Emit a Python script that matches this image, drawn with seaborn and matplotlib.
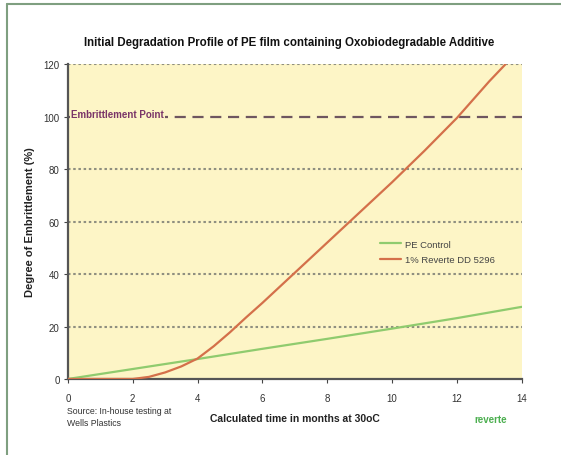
import matplotlib
matplotlib.use("Agg")
import matplotlib.pyplot as plt
import seaborn as sns
import pandas as pd

# Degradation data (months at 30oC vs. % embrittlement)
months_control = [0, 2, 4, 6, 8, 10, 12, 14]
control_values = [0, 3.8, 7.6, 11.5, 15.3, 19.2, 23.2, 27.5]

months_additive = [0, 1, 2, 2.5, 3, 3.5, 4, 4.5, 5, 5.5, 6, 7, 8, 9, 10, 11, 12, 12.5, 13, 13.5]
additive_values = [0, 0, 0, 0.8, 2.5, 4.8, 7.8, 12.5, 17.8, 23.5, 29, 40.5, 52, 63.5, 75, 87, 99.5, 106.5, 113.5, 120]

series_names = ["PE Control", "1% Reverte DD 5296"]
series_colors = ["#8fcb6e", "#d4704a"]

embrittlement_level = 100
y_ticks = [0, 20, 40, 60, 80, 100, 120]
x_ticks = [0, 2, 4, 6, 8, 10, 12, 14]

df = pd.concat([
    pd.DataFrame({"month": months_control, "value": control_values, "series": series_names[0]}),
    pd.DataFrame({"month": months_additive, "value": additive_values, "series": series_names[1]}),
])

sns.set_theme(style="white")
plt.rcParams["font.family"] = ["Liberation Sans", "DejaVu Sans"]

fig = plt.figure(figsize=(5.61, 4.56), dpi=100)
ax = fig.add_axes([0.121, 0.1667, 0.809, 0.6903])
bg = "#fdf5c6"
ax.set_facecolor(bg)

# dotted grid lines
for y in [20, 40, 60, 80, 120]:
    ax.axhline(y, color="#8f8f80", lw=1.5, ls=(0, (1.2, 1.3)), zorder=1)

# embrittlement endpoint
ax.axhline(embrittlement_level, color="#6e5660", lw=1.6, ls=(0, (5, 3)), zorder=2)
ax.text(0.1, embrittlement_level + 1.2, "Embrittlement Point", color="#7a3568",
        fontsize=7, fontweight="bold", va="center", ha="left", zorder=3,
        bbox=dict(facecolor=bg, edgecolor="none", pad=0.5))

sns.lineplot(data=df, x="month", y="value", hue="series", hue_order=series_names,
             palette=series_colors, lw=1.6, ax=ax, zorder=4, legend=True)

ax.set_xlim(0, 14)
ax.set_ylim(0, 120)
ax.set_xticks(x_ticks)
ax.set_yticks(y_ticks)
ax.tick_params(axis="both", labelsize=7, colors="#444444", length=3, width=0.8,
               direction="out", bottom=True, left=True)
ax.tick_params(axis="x", pad=7)
ax.tick_params(axis="y", pad=3)
for lab in ax.get_xticklabels() + ax.get_yticklabels():
    lab.set_color("#333333")

for side in ["top", "right"]:
    ax.spines[side].set_visible(False)
for side in ["left", "bottom"]:
    ax.spines[side].set_color("#555555")
    ax.spines[side].set_linewidth(1.6)

ax.set_xlabel("Calculated time in months at 30oC", fontsize=7.5, fontweight="bold",
              color="#222222", labelpad=7)
ax.set_ylabel("Degree of Embrittlement (%)", fontsize=8, fontweight="bold",
              color="#222222", labelpad=6)

leg = ax.legend(loc="upper left", bbox_to_anchor=(0.67, 0.47), frameon=False,
                fontsize=6.8, handlelength=2.2, handletextpad=0.4, labelspacing=0.7)
for t in leg.get_texts():
    t.set_color("#444444")

fig.text(0.515, 0.905, "Initial Degradation Profile of PE film containing Oxobiodegradable Additive",
         ha="center", va="center", fontsize=8.3, fontweight="bold", color="#111111")

fig.text(0.12, 0.108, "Source: In-house testing at\nWells Plastics", ha="left", va="top",
         fontsize=6.3, color="#333333", linespacing=1.45)
fig.text(0.875, 0.079, "reverte", ha="center", va="center", fontsize=7,
         fontweight="bold", color="#4caf50")

# page frame lines (top and left)
fig.add_artist(plt.Line2D([0.0125, 1.0], [0.989, 0.989], transform=fig.transFigure,
                          color="#7f9f80", lw=1.5))
fig.add_artist(plt.Line2D([0.0125, 0.0125], [0.0, 0.989], transform=fig.transFigure,
                          color="#7f9f80", lw=1.5))

fig.savefig("out.png", dpi=100)
